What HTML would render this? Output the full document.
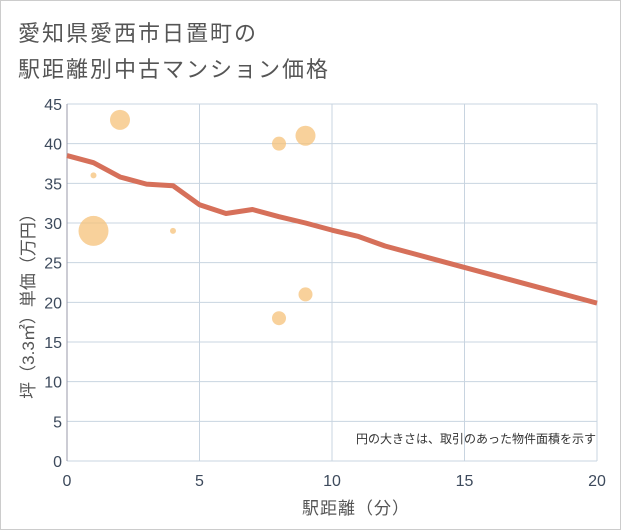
<!DOCTYPE html>
<html><head><meta charset="utf-8"><style>
body{margin:0;background:#fff}
svg{display:block;font-family:"Liberation Sans","Noto Sans CJK JP",sans-serif}
</style></head><body>
<svg width="621" height="530">
<rect x="0.5" y="0.5" width="620" height="529" fill="#fff" stroke="#ccc"/>
<text x="18" y="41" font-size="22" letter-spacing="2" fill="#555">愛知県愛西市日置町の</text>
<text x="18" y="77" font-size="22" letter-spacing="2" fill="#555">駅距離別中古マンション価格</text>
<g id="grid"></g>
<g id="marks"></g>
<text x="596" y="443" font-size="12" fill="#333" text-anchor="end">円の大きさは、取引のあった物件面積を示す</text>
<text x="356" y="514" font-size="17" letter-spacing="1" fill="#555" text-anchor="middle">駅距離（分）</text>
<text transform="translate(34,302) rotate(-90)" font-size="17" fill="#555" text-anchor="middle">坪（3.3㎡）単価（万円）</text>
</svg>
<script>
const xTicks=[0,5,10,15,20];
const yTicks=[0,5,10,15,20,25,30,35,40,45];
const lineX=[0,1,2,3,4,5,6,7,8,9,10,11,12,13,14,15,16,17,18,19,20];
const lineY=[38.5,37.6,35.8,34.9,34.7,32.3,31.2,31.7,30.8,30,29.1,28.3,27.1,26.2,25.3,24.4,23.5,22.6,21.7,20.8,19.9];
const bubX=[1,2,1,4,8,9,8,9];
const bubY=[29,43,36,29,40,41,18,21];
const bubR=[15,10,3,3,7,10,7,7];
const X0=67,X1=597,Y0=461,Y1=104;
const sx=v=>X0+(X1-X0)*v/20, sy=v=>Y0-(Y0-Y1)*v/45;
const NS="http://www.w3.org/2000/svg";
const g=document.getElementById('grid'),m=document.getElementById('marks');
function mk(p,tag,a){const e=document.createElementNS(NS,tag);for(const k in a)e.setAttribute(k,a[k]);p.appendChild(e);return e;}
yTicks.forEach(v=>{
 const l=mk(g,'line',{x1:X0,x2:X1,y1:sy(v),y2:sy(v),stroke:'#c8d4e0','stroke-width':1});
 
 
 const t=mk(g,'text',{x:X0-5,y:sy(v)+6,'font-size':16,fill:'#3d4a5c','text-anchor':'end'});
 t.textContent=v;
 
 
});
xTicks.forEach(v=>{
 const l=mk(g,'line',{x1:sx(v),x2:sx(v),y1:Y1,y2:Y0,stroke:'#c8d4e0','stroke-width':1});
 
 
 const t=mk(g,'text',{x:sx(v),y:Y0+25,'font-size':16,fill:'#3d4a5c','text-anchor':'middle'});
 t.textContent=v;
 
 
});
const ax=mk(g,'line',{x1:X0,x2:X0,y1:Y1,y2:Y0,stroke:'#99a','stroke-width':1});


bubX.forEach((x,i)=>{
 const c=mk(m,'circle',{cx:sx(x),cy:sy(bubY[i]),r:bubR[i],fill:'#f5c27a','fill-opacity':0.75});
 
 
});
const p=mk(m,'polyline',{points:lineX.map((x,i)=>sx(x)+','+sy(lineY[i])).join(' '),fill:'none',stroke:'#d6705a','stroke-width':5,'stroke-linejoin':'round'});


</script>
</body></html>
